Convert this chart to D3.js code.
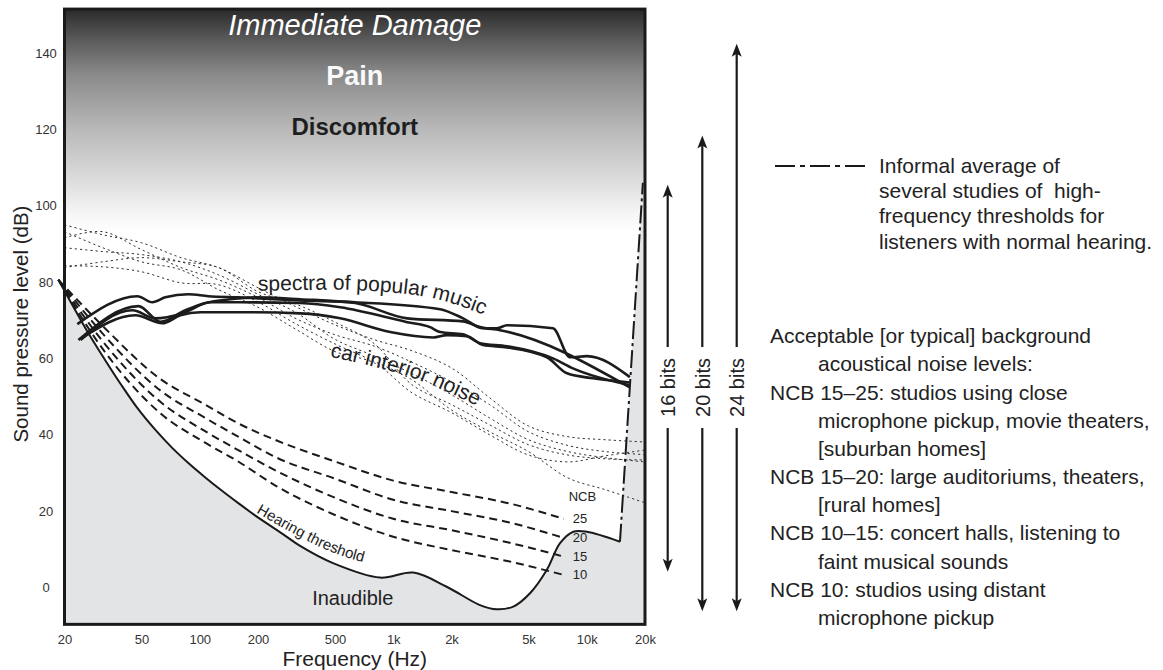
<!DOCTYPE html>
<html><head><meta charset="utf-8">
<script src="https://cdn.jsdelivr.net/npm/d3@7"></script>
<style>
html,body{margin:0;padding:0;background:#fff;}
svg{display:block;font-family:"Liberation Sans",Arial,Helvetica,sans-serif;}
</style></head><body>
<svg id="chart" width="1163" height="670"></svg>
<script>
// ---------- data ----------
const xTickValues = [20, 50, 100, 200, 500, 1000, 2000, 5000, 10000, 20000];
const xTickLabels = ["20", "50", "100", "200", "500", "1k", "2k", "5k", "10k", "20k"];
const yTickValues = [0, 20, 40, 60, 80, 100, 120, 140];

const thresholdFreq = [18.6, 26.5, 32.4, 39.5, 48.1, 58.7, 71.6, 87.3, 106.4, 129.8, 158.2, 193, 269, 330, 488, 854, 1269, 1888, 2806, 3424, 4170, 5090, 6210, 7278, 8522, 10000, 14850];
const thresholdDb   = [80.6, 66.7, 59.6, 52.9, 46.7, 41.4, 36.7, 32.6, 28.9, 25.4, 22.1, 18.9, 14.0, 10.9, 6.4, 2.6, 3.9, 0.2, -4.6, -5.7, -5.0, -1.5, 4.6, 11.6, 14.6, 14.6, 12.0];

const hfThresholdFreq = [14850, 19500];
const hfThresholdDb = [12, 106];

const ncbLevels = ["25", "20", "15", "10"];
const ncbFreq = [18.6, 31.5, 63, 106, 158, 250, 500, 1000, 2000, 4000, 7600];
const ncb25 = [80.6, 68.5, 54.5, 48, 43, 38.5, 33, 28, 25, 22, 18];
const ncb20 = [80.6, 66.5, 51.5, 44.5, 39.5, 34, 28.5, 23, 20, 17, 13];
const ncb15 = [80.6, 64.5, 48.5, 41, 36, 30.5, 23.5, 18, 15, 11.7, 8.1];
const ncb10 = [80.6, 62.5, 45.5, 38, 33, 26.5, 19, 13.3, 9.8, 6.8, 3.3];

const carFreq = [20, 31.5, 50, 80, 125, 200, 315, 500, 800, 1250, 2000, 3150, 5000, 8000, 12500, 20000];
const car1 = [95.0, 92.4, 90.3, 86.4, 83.8, 78.5, 73.5, 68.8, 64.9, 62.0, 57.5, 49.7, 42.3, 39.5, 38.7, 38.1];
const car2 = [91.6, 93.2, 88.5, 83.8, 80.6, 76.0, 70.4, 66.2, 63.2, 59.0, 53.9, 47.9, 40.8, 37.2, 35.6, 34.8];
const car3 = [89.0, 88.0, 87.2, 85.3, 81.9, 76.8, 72.0, 65.0, 60.6, 56.0, 50.5, 44.4, 38.7, 35.6, 34.0, 32.9];
const car4 = [83.8, 85.3, 86.4, 85.3, 83.8, 77.5, 74.2, 69.5, 63.8, 53.1, 47.9, 42.6, 37.4, 34.7, 33.7, 33.4];
const car5 = [84.3, 84.0, 82.7, 79.8, 79.3, 74.8, 69.0, 63.8, 59.2, 54.4, 46.5, 40.8, 35.6, 28.7, 25.6, 22.2];
const car6 = [93.2, 89.0, 85.3, 83.2, 78.0, 73.4, 67.6, 61.8, 58.8, 51.0, 45.8, 40.0, 34.7, 32.9, 34.5, 36.0];

const music1Freq = [23.3, 47.6, 56.9, 66.4, 87.3, 110.8, 158, 331, 636, 1746, 2296, 2912, 3438, 3873, 6692, 8193, 10020, 16710];
const music1Db   = [69.0, 76.3, 74.7, 76.0, 76.8, 76.3, 76.0, 75.2, 74.7, 72.9, 70.5, 67.9, 67.9, 68.7, 67.9, 60.3, 60.6, 55.1];
const music2Freq = [23.6, 48.2, 62.6, 84.3, 106.9, 143.9, 193.7, 331, 636, 1180, 2296, 2810, 3564, 16710];
const music2Db   = [64.8, 73.7, 69.6, 72.6, 74.5, 75.5, 76.0, 75.5, 74.5, 70.5, 69.7, 68.2, 67.4, 52.4];
const music3Freq = [24.2, 44.9, 59.0, 81.3, 113.4, 162, 331, 532, 1180, 1550, 1746, 2296, 2810, 3873, 6692, 8488, 16710];
const music3Db   = [64.8, 72.6, 70.5, 71.8, 74.7, 74.7, 74.5, 73.4, 69.5, 68.2, 66.9, 66.3, 64.0, 63.2, 60.0, 57.4, 53.0];
const music4Freq = [24.8, 46.5, 64.1, 79.4, 100.7, 162, 331, 532, 964, 1607, 1898, 2408, 2912, 3873, 6230, 7906, 10770, 16710];
const music4Db   = [65.5, 71.3, 69.2, 71.3, 72.1, 72.1, 71.8, 70.5, 66.9, 65.5, 66.1, 65.8, 63.5, 62.9, 60.3, 56.1, 54.8, 53.7];

const bitLabels = ["16 bits", "20 bits", "24 bits"];
const bitTopDb = [105.5, 118.4, 142.4];
const bitBottomDb = [4.1, -6.2, -6.2];

const legendLines = ["Informal average of", "several studies of  high-", "frequency thresholds for", "listeners with normal hearing."];
const noiseLines = [
  ["Acceptable [or typical] background", 0],
  ["acoustical noise levels:", 1],
  ["NCB 15\u201325: studios using close", 0],
  ["microphone pickup, movie theaters,", 1],
  ["[suburban homes]", 1],
  ["NCB 15\u201320: large auditoriums, theaters,", 0],
  ["[rural homes]", 1],
  ["NCB 10\u201315: concert halls, listening to", 0],
  ["faint musical sounds", 1],
  ["NCB 10: studios using distant", 0],
  ["microphone pickup", 1]
];

// ---------- scales ----------
const svg = d3.select("#chart");
const x = d3.scaleLog().domain([20, 20000]).range([64.5, 645]);
const y = d3.scaleLinear().domain([0, 140]).range([587.5, 53]);
const yLo = -9.65, yHi = 151.5;
const fL = x(20), fR = x(20000), fT = y(yHi), fB = y(yLo);

const zip = (f, d) => f.map((v, i) => [v, d[i]]);
const lineMono = d3.line().x(d => x(d[0])).y(d => y(d[1])).curve(d3.curveMonotoneX);
const lineSmooth = d3.line().x(d => x(d[0])).y(d => y(d[1])).curve(d3.curveCatmullRom.alpha(0.5));
const lineLin = d3.line().x(d => x(d[0])).y(d => y(d[1]));

// ---------- defs ----------
const defs = svg.append("defs");
const grad = defs.append("linearGradient").attr("id", "sky")
  .attr("gradientUnits", "userSpaceOnUse").attr("x1", 0).attr("x2", 0)
  .attr("y1", fT).attr("y2", y(93));
[[0, "#2a2a2a"], [0.136, "#5a5a5a"], [0.293, "#8a8a8a"], [0.539, "#b9b9b9"], [0.763, "#dcdcdc"], [0.92, "#f6f6f6"], [1, "#ffffff"]]
  .forEach(s => grad.append("stop").attr("offset", s[0]).attr("stop-color", s[1]));
defs.append("clipPath").attr("id", "frameClip").append("rect")
  .attr("x", fL).attr("y", fT).attr("width", fR - fL).attr("height", fB - fT);

// ---------- background ----------
svg.append("rect").attr("x", fL).attr("y", fT).attr("width", fR - fL).attr("height", fB - fT).attr("fill", "url(#sky)");

const clipG = svg.append("g").attr("clip-path", "url(#frameClip)");
const areaThr = d3.area().x(d => x(d[0])).y0(fB).y1(d => y(d[1])).curve(d3.curveCatmullRom.alpha(0.5));
clipG.append("path").attr("d", areaThr(zip(thresholdFreq, thresholdDb))).attr("fill", "#e3e4e6");
const hfPoly = [[hfThresholdFreq[0], hfThresholdDb[0]], [hfThresholdFreq[1], hfThresholdDb[1]], [20000, hfThresholdDb[1]], [20000, yLo], [hfThresholdFreq[0], yLo]];
clipG.append("path").attr("d", lineLin(hfPoly) + "Z").attr("fill", "#e3e4e6");

// car interior noise (dotted)
[car1, car2, car3, car4, car5, car6].forEach(c => {
  svg.append("path").attr("d", lineSmooth(zip(carFreq, c)))
    .attr("fill", "none").attr("stroke", "#333").attr("stroke-width", 1)
    .attr("stroke-dasharray", "2.2,3");
});

// NCB curves (dashed)
const ncbSets = [ncb25, ncb20, ncb15, ncb10];
ncbSets.forEach(c => {
  svg.append("path").attr("d", lineMono(zip(ncbFreq, c)))
    .attr("fill", "none").attr("stroke", "#1a1a1a").attr("stroke-width", 2)
    .attr("stroke-dasharray", "8,5");
});

// hearing threshold
svg.append("path").attr("d", lineSmooth(zip(thresholdFreq, thresholdDb)))
  .attr("fill", "none").attr("stroke", "#1a1a1a").attr("stroke-width", 2);

// high frequency threshold (dash-dot)
svg.append("path").attr("d", lineLin(zip(hfThresholdFreq, hfThresholdDb)))
  .attr("fill", "none").attr("stroke", "#1a1a1a").attr("stroke-width", 2)
  .attr("stroke-dasharray", "18,4,3,4");

// music spectra
[[music1Freq, music1Db], [music2Freq, music2Db], [music3Freq, music3Db], [music4Freq, music4Db]].forEach(m => {
  svg.append("path").attr("d", lineMono(zip(m[0], m[1])))
    .attr("fill", "none").attr("stroke", "#1c1c1c").attr("stroke-width", 2.6)
    .attr("stroke-linejoin", "round");
});

// ---------- curved labels ----------
function pathLabel(id, pts, text, size) {
  defs.append("path").attr("id", id).attr("d", lineSmooth(pts));
  svg.append("text").attr("font-size", size).attr("fill", "#222")
    .append("textPath").attr("href", "#" + id).text(text);
}
pathLabel("musicPath", zip([200, 330, 531, 854, 1375, 1964, 2806, 4013], [77.7, 77.9, 78.0, 77.5, 76.4, 74.6, 71.8, 68.6]), "spectra of popular music", 21);
pathLabel("carPath", zip([471, 714, 1084, 1548, 2084, 2980], [60.4, 58.4, 56.0, 53.2, 50.3, 46.5]), "car interior noise", 21);
pathLabel("hearPath", zip([195.3, 292.8, 418, 598, 854], [19.6, 14.6, 10.6, 7.6, 5.6]), "Hearing threshold", 15);

// NCB labels
svg.append("text").attr("x", x(7600) + 5).attr("y", y(22.7)).attr("font-size", 13).attr("fill", "#222").text("NCB");
ncbSets.forEach((c, i) => {
  svg.append("text").attr("x", x(ncbFreq[ncbFreq.length - 1]) + 9).attr("y", y(c[c.length - 1]))
    .attr("dy", "0.35em").attr("font-size", 13).attr("fill", "#222").text(ncbLevels[i]);
});

// region labels
const cx = (fL + fR) / 2;
svg.append("text").attr("x", cx).attr("y", y(144.6)).attr("text-anchor", "middle")
  .attr("font-size", 29).attr("font-style", "italic").attr("fill", "#fff").text("Immediate Damage");
svg.append("text").attr("x", cx).attr("y", y(131.5)).attr("text-anchor", "middle")
  .attr("font-size", 27).attr("font-weight", "bold").attr("fill", "#fafafa").text("Pain");
svg.append("text").attr("x", cx).attr("y", y(118.4)).attr("text-anchor", "middle")
  .attr("font-size", 24).attr("font-weight", "bold").attr("fill", "#1e1e1e").text("Discomfort");
svg.append("text").attr("x", cx - 2).attr("y", y(-4.6)).attr("text-anchor", "middle")
  .attr("font-size", 20).attr("fill", "#222").text("Inaudible");

// frame
svg.append("rect").attr("x", fL).attr("y", fT).attr("width", fR - fL).attr("height", fB - fT)
  .attr("fill", "none").attr("stroke", "#1a1a1a").attr("stroke-width", 3);

// ---------- axes ----------
const xAxis = svg.append("g").attr("transform", `translate(0,${fB})`)
  .call(d3.axisBottom(x).tickValues(xTickValues).tickFormat((d, i) => xTickLabels[i]).tickSize(0).tickPadding(10));
xAxis.attr("font-family", null).attr("font-size", null);
xAxis.select(".domain").remove();
xAxis.selectAll("text").style("font-size", "13px").attr("fill", "#333");

const yAxis = svg.append("g").attr("transform", `translate(${fL},0)`)
  .call(d3.axisLeft(y).tickValues(yTickValues).tickSize(0));
yAxis.attr("font-family", null).attr("font-size", null);
yAxis.select(".domain").remove();
yAxis.selectAll("text").style("font-size", "13px").attr("fill", "#333")
  .attr("text-anchor", "middle").attr("x", 46 - fL);

svg.append("text").attr("x", cx).attr("y", 666).attr("text-anchor", "middle")
  .attr("font-size", 21).attr("fill", "#222").text("Frequency (Hz)");
svg.append("text").attr("transform", `translate(28,${y(69)}) rotate(-90)`).attr("text-anchor", "middle")
  .attr("font-size", 20.5).attr("fill", "#222").text("Sound pressure level (dB)");

// ---------- bit depth arrows ----------
const bitX = [667.7, 702.3, 736.7];
const labelMid = 387.5, gapHalf = 40.5;
bitLabels.forEach((lab, i) => {
  const bx = bitX[i], top = y(bitTopDb[i]), bot = y(bitBottomDb[i]);
  const g = svg.append("g").attr("stroke", "#1a1a1a").attr("fill", "#1a1a1a");
  g.append("line").attr("x1", bx).attr("x2", bx).attr("y1", top + 8).attr("y2", labelMid - gapHalf).attr("stroke-width", 2.2);
  g.append("line").attr("x1", bx).attr("x2", bx).attr("y1", labelMid + gapHalf).attr("y2", bot - 8).attr("stroke-width", 2.2);
  g.append("path").attr("stroke", "none").attr("d", `M${bx},${top} L${bx - 5},${top + 13} L${bx},${top + 10} L${bx + 5},${top + 13} Z`);
  g.append("path").attr("stroke", "none").attr("d", `M${bx},${bot} L${bx - 5},${bot - 13} L${bx},${bot - 10} L${bx + 5},${bot - 13} Z`);
  svg.append("text").attr("transform", `translate(${bx},${labelMid}) rotate(-90)`)
    .attr("text-anchor", "middle").attr("dy", "0.36em").attr("font-size", 20).attr("fill", "#222").text(lab);
});

// ---------- right-hand notes ----------
svg.append("line").attr("x1", 775).attr("x2", 870).attr("y1", 166).attr("y2", 166)
  .attr("stroke", "#1a1a1a").attr("stroke-width", 2).attr("stroke-dasharray", "20,5,5,5");
legendLines.forEach((t, i) => {
  svg.append("text").attr("x", 879).attr("y", 172.5 + i * 25.4).attr("font-size", 21).attr("fill", "#222")
    .attr("xml:space", "preserve").text(t);
});
noiseLines.forEach((t, i) => {
  svg.append("text").attr("x", t[1] ? 818 : 770).attr("y", 343.3 + i * 28.17).attr("font-size", 21).attr("fill", "#222").text(t[0]);
});
</script>
</body></html>
